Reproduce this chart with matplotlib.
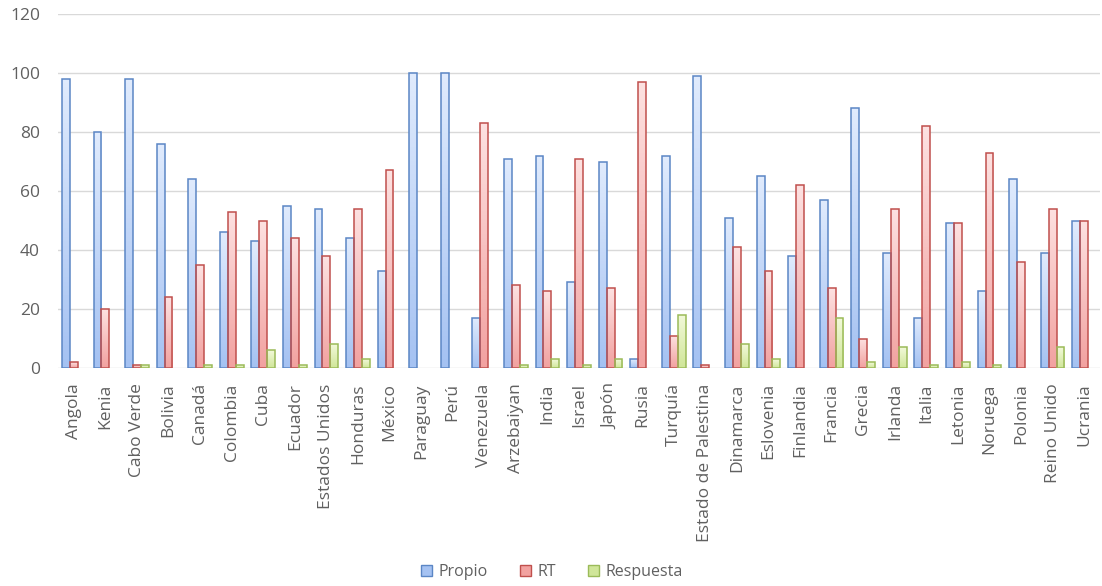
# grouped bars: Propio / RT / Respuesta per country, office-style gradient fill

import numpy as np
import matplotlib
matplotlib.use("Agg")
import matplotlib.pyplot as plt
from matplotlib.patches import Patch
from matplotlib.colors import LinearSegmentedColormap

paises = [
    "Angola", "Kenia", "Cabo Verde", "Bolivia", "Canadá", "Colombia", "Cuba",
    "Ecuador", "Estados Unidos", "Honduras", "México", "Paraguay", "Perú",
    "Venezuela", "Arzebaiyan", "India", "Israel", "Japón", "Rusia", "Turquía",
    "Estado de Palestina", "Dinamarca", "Eslovenia", "Finlandia", "Francia",
    "Grecia", "Irlanda", "Italia", "Letonia", "Noruega", "Polonia",
    "Reino Unido", "Ucrania",
]
propio = [98, 80, 98, 76, 64, 46, 43, 55, 54, 44, 33, 100, 100, 17, 71, 72, 29,
          70, 3, 72, 99, 51, 65, 38, 57, 88, 39, 17, 49, 26, 64, 39, 50]
rt = [2, 20, 1, 24, 35, 53, 50, 44, 38, 54, 67, 0, 0, 83, 28, 26, 71, 27, 97,
      11, 1, 41, 33, 62, 27, 10, 54, 82, 49, 73, 36, 54, 50]
respuesta = [0, 0, 1, 0, 1, 1, 6, 1, 8, 3, 0, 0, 0, 0, 1, 3, 1, 3, 0, 18, 0, 8,
             3, 0, 17, 2, 7, 1, 2, 1, 0, 7, 0]
series = ["Propio", "RT", "Respuesta"]

# (edge, top of gradient, bottom of gradient)
estilos = [
    ("#5b86c5", "#e0ebfd", "#a5c2f2"),
    ("#c0504d", "#fde1e1", "#f2a2a0"),
    ("#9bbb59", "#f2f9da", "#d0e699"),
]

plt.rcParams["font.family"] = ["Open Sans", "DejaVu Sans"]
gris = "#606060"

fig = plt.figure(figsize=(11.02, 5.86), dpi=100)
ax = fig.add_axes([58 / 1102, 1 - 368 / 586, 1042 / 1102, 354 / 586])

x = np.arange(len(paises))
w = 0.25
grad = np.linspace(0, 1, 64).reshape(-1, 1)

for i, (nombre, vals) in enumerate(zip(series, [propio, rt, respuesta])):
    edge, top, bottom = estilos[i]
    cmap = LinearSegmentedColormap.from_list(nombre, [top, bottom])
    bars = ax.bar(x + (i - 1) * w, vals, width=w, facecolor="none",
                  edgecolor=edge, linewidth=1.1, zorder=3)
    for b in bars:
        h = b.get_height()
        if h <= 0:
            b.set_linewidth(0)   # empty value: nothing drawn
            continue
        x0 = b.get_x()
        im = ax.imshow(grad, cmap=cmap, aspect="auto", zorder=2,
                       extent=(x0, x0 + b.get_width(), 0, h), origin="upper")
        im.set_clip_path(b)

ax.set_xlim(-0.5, len(paises) - 0.5)
ax.set_ylim(0, 120)
ax.set_yticks(range(0, 121, 20))
ax.set_xticks(x)
ax.set_xticklabels(paises, rotation=90)
ax.tick_params(axis="both", length=0, colors=gris, labelsize=12.5)
ax.tick_params(axis="y", pad=13)
ax.tick_params(axis="x", pad=11)
ax.grid(axis="y", color="#d9d9d9", linewidth=1.0, zorder=0)
ax.set_axisbelow(True)
for s in ax.spines.values():
    s.set_visible(False)

handles = [Patch(facecolor=estilos[i][2], edgecolor=estilos[i][0], label=series[i])
           for i in range(3)]
fig.legend(handles=handles, loc="center", bbox_to_anchor=(552 / 1102, 1 - 572 / 586),
           ncol=3, frameon=False, fontsize=11.5, handlelength=0.7, handleheight=0.7,
           handletextpad=0.4, columnspacing=2.0, labelcolor=gris)

fig.savefig("out.png", dpi=100)
